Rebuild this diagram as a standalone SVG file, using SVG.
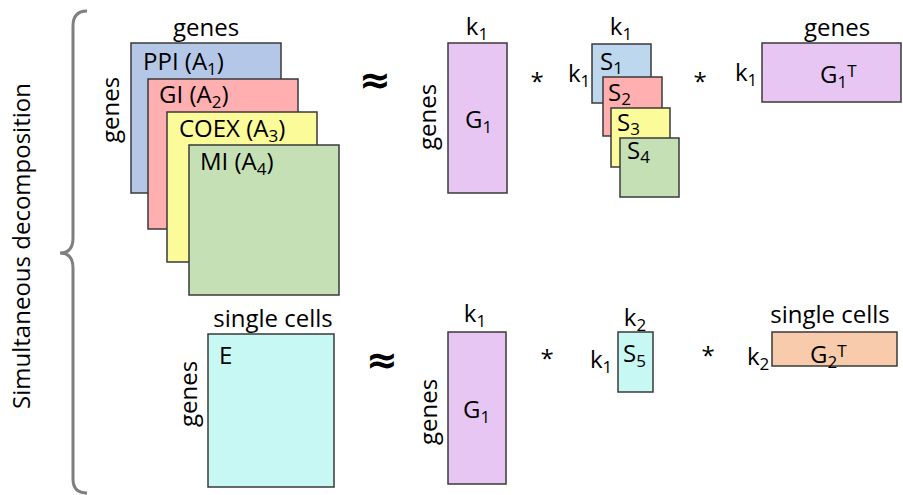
<svg xmlns="http://www.w3.org/2000/svg" width="903" height="495" viewBox="0 0 903 495">
<style>
text{font-family:"Open Sans","Liberation Sans",sans-serif;font-size:24px;fill:#000}
.sub{font-size:17px}
.m{text-anchor:middle}
.r{stroke:#3a3a3a;stroke-width:1.5}
.approx{font-family:"DejaVu Sans",sans-serif;font-weight:bold;font-size:38px;text-anchor:middle}
.blue{fill:#b4c7e7}.pink{fill:#ffafaf}.yel{fill:#fbfb99}.grn{fill:#c5e0b4}
.vio{fill:#e8c6f3}.sblue{fill:#bdd7ee}.cyan{fill:#c8f8f3}.org{fill:#f8cbad}
</style>
<rect width="903" height="495" fill="#fff"/>
<g id="brace">
<path d="M87 11 Q73 11 73 26 L73 238 Q73 253 60 253 Q73 253 73 268 L73 479 Q73 493 87 493" fill="none" stroke="#7f7f7f" stroke-width="3"/>
<text class="m" transform="translate(30,246) rotate(-90)">Simultaneous decomposition</text>
</g>
<g id="connectors"></g>
<g id="A-stack">
<text class="m" x="206" y="36">genes</text>
<text class="m" transform="translate(119,110) rotate(-90)">genes</text>
<g id="A1"><rect class="r blue" x="131" y="43" width="150" height="150"/><text x="143" y="70">PPI (A<tspan class="sub" dy="5">1</tspan><tspan dy="-5">)</tspan></text></g>
<g id="A2"><rect class="r pink" x="148" y="79" width="150" height="150"/><text x="159" y="103">GI (A<tspan class="sub" dy="5">2</tspan><tspan dy="-5">)</tspan></text></g>
<g id="A3"><rect class="r yel" x="167" y="112" width="150" height="150"/><text x="179" y="137">COEX (A<tspan class="sub" dy="5">3</tspan><tspan dy="-5">)</tspan></text></g>
<g id="A4"><rect class="r grn" x="189" y="145" width="150" height="150"/><text x="200" y="170">MI (A<tspan class="sub" dy="5">4</tspan><tspan dy="-5">)</tspan></text></g>
</g>
<text class="approx" x="375" y="93">≈</text>
<g id="G1-top">
<rect class="r vio" x="448" y="43" width="59" height="150"/>
<text class="m" x="477" y="35">k<tspan class="sub" dy="5">1</tspan></text>
<text class="m" transform="translate(436,117) rotate(-90)">genes</text>
<text x="465" y="128">G<tspan class="sub" dy="5">1</tspan></text>
</g>
<text class="m" x="537" y="90">*</text>
<g id="S-stack">
<text class="m" x="621" y="35">k<tspan class="sub" dy="5">1</tspan></text>
<text x="568" y="82">k<tspan class="sub" dy="5">1</tspan></text>
<g id="S1"><rect class="r sblue" x="592" y="44" width="59" height="59"/><text x="600" y="70">S<tspan class="sub" dy="4">1</tspan></text></g>
<g id="S2"><rect class="r pink" x="603" y="77" width="59" height="59"/><text x="608" y="101">S<tspan class="sub" dy="4">2</tspan></text></g>
<g id="S3"><rect class="r yel" x="611" y="108" width="59" height="59"/><text x="617" y="131">S<tspan class="sub" dy="4">3</tspan></text></g>
<g id="S4"><rect class="r grn" x="620" y="138" width="59" height="59"/><text x="627" y="159">S<tspan class="sub" dy="4">4</tspan></text></g>
</g>
<text class="m" x="700" y="90">*</text>
<g id="G1T">
<text x="735" y="81">k<tspan class="sub" dy="5">1</tspan></text>
<text class="m" x="837" y="36">genes</text>
<rect class="r vio" x="762" y="43" width="139" height="59"/>
<text x="820" y="83">G<tspan class="sub" dy="5">1</tspan><tspan class="sub" dy="-11">T</tspan></text>
</g>
<g id="E">
<text class="m" x="273" y="327">single cells</text>
<text class="m" transform="translate(197,394) rotate(-90)">genes</text>
<rect class="r cyan" x="208" y="334" width="126" height="153"/>
<text x="219" y="364">E</text>
</g>
<text class="approx" x="382" y="373">≈</text>
<g id="G1-bottom">
<rect class="r vio" x="448" y="332" width="58" height="152"/>
<text class="m" x="475" y="322">k<tspan class="sub" dy="5">1</tspan></text>
<text class="m" transform="translate(437,412) rotate(-90)">genes</text>
<text x="463" y="418">G<tspan class="sub" dy="5">1</tspan></text>
</g>
<text class="m" x="547" y="367">*</text>
<g id="S5">
<text class="m" x="635" y="326">k<tspan class="sub" dy="5">2</tspan></text>
<text x="590" y="368">k<tspan class="sub" dy="5">1</tspan></text>
<rect class="r cyan" x="618" y="332" width="35" height="60"/>
<text x="623" y="362">S<tspan class="sub" dy="5">5</tspan></text>
</g>
<text class="m" x="708" y="364">*</text>
<g id="G2T">
<text x="747" y="365">k<tspan class="sub" dy="5">2</tspan></text>
<text class="m" x="830" y="323">single cells</text>
<rect class="r org" x="772" y="332" width="125" height="34"/>
<text x="810" y="363">G<tspan class="sub" dy="5">2</tspan><tspan class="sub" dy="-11">T</tspan></text>
</g>
</svg>
